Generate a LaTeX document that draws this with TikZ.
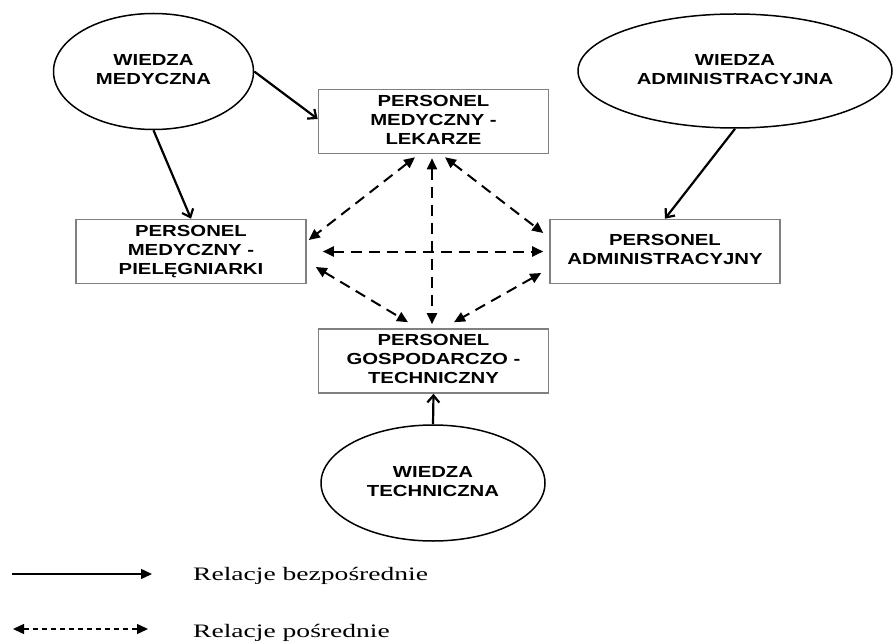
\documentclass[tikz,border=0pt]{standalone}
\usepackage{fontspec}
\newfontfamily\boxfont{Liberation Sans}
\newfontfamily\legfont{Liberation Serif}
\usetikzlibrary{shapes.geometric,arrows.meta}
% labels in the picture are set wide
\newcommand\widelabel[1]{\scalebox{1.27}[1]{\begin{tabular}{@{}c@{}}#1\end{tabular}}}
\newcommand\widelegend[1]{\scalebox{1.45}[1]{#1}}

\begin{document}
\begin{tikzpicture}[
	%	style def
	x=1pt, y=-1pt,
	label font/.style={font=\boxfont\bfseries\fontsize{16}{19}\selectfont},
	staff box/.style={label font, draw=gray, line width=1.6pt, rectangle,
		minimum width=230pt, minimum height=64pt, inner sep=2pt},
	knowledge/.style={label font, draw=black, line width=1.5pt, ellipse, inner sep=0pt},
	direct line/.style={line width=2.2pt, -{Straight Barb[length=7pt,width=12pt]}},
	indirect line/.style={line width=2pt, dash pattern=on 11pt off 7pt,
		{Triangle[length=11pt,width=10pt]}-{Triangle[length=11pt,width=10pt]}},
	legend text/.style={font=\legfont\fontsize{19}{22}\selectfont, anchor=base west, inner sep=0pt}
	]
	\useasboundingbox (0,0) rectangle (893,644);

	% knowledge ellipses
	\node[knowledge, minimum width=200pt, minimum height=116pt] (medKnow) at (153.5,71.5) {\widelabel{WIEDZA\\MEDYCZNA}};
	\node[knowledge, minimum width=314pt, minimum height=114pt] (admKnow) at (735,71) {\widelabel{WIEDZA\\ADMINISTRACYJNA}};
	\node[knowledge, minimum width=224pt, minimum height=116pt] (techKnow) at (433,483) {\widelabel{WIEDZA\\TECHNICZNA}};

	% staff boxes
	\node[staff box] (doctors) at (433.5,121.5) {\widelabel{PERSONEL\\MEDYCZNY -\\LEKARZE}};
	\node[staff box] (nurses) at (191,251.5) {\widelabel{PERSONEL\\MEDYCZNY -\\PIEL\k{E}GNIARKI}};
	\node[staff box] (admin) at (665,251.5) {\widelabel{PERSONEL\\ADMINISTRACYJNY}};
	\node[staff box] (tech) at (433.5,361) {\widelabel{PERSONEL\\GOSPODARCZO -\\TECHNICZNY}};

	% direct relations
	\draw[direct line] (medKnow.east) -- ([yshift=2.5pt]doctors.west);
	\draw[direct line] (medKnow.south) -- (nurses.north);
	\draw[direct line] (admKnow.south) -- (admin.north);
	\draw[direct line] (techKnow.north) -- (tech.south);

	% indirect relations
	\draw[indirect line] ([xshift=-18.5pt,yshift=-3pt]doctors.south) -- ([xshift=2pt,yshift=11.5pt]nurses.east);
	\draw[indirect line] ([xshift=11.5pt,yshift=-3pt]doctors.south) -- ([xshift=-6pt,yshift=18.5pt]admin.west);
	\draw[indirect line] ([xshift=16pt]nurses.east) -- ([xshift=-6pt]admin.west);
	\draw[indirect line] ([xshift=9pt,yshift=-15.5pt]nurses.east) -- ([xshift=-25.5pt,yshift=6pt]tech.north);
	\draw[indirect line] ([xshift=-8pt,yshift=-21.5pt]admin.west) -- ([xshift=20.5pt,yshift=6pt]tech.north);
	\draw[indirect line] ([xshift=-1.5pt,yshift=-4pt]doctors.south) -- ([xshift=-1.5pt,yshift=4pt]tech.north);

	% legend
	\coordinate (dirA) at (12,574);
	\coordinate (dirB) at (152,574);
	\coordinate (indA) at (13,629);
	\coordinate (indB) at (148,629);
	\draw[line width=1.4pt, -{Triangle[length=11pt,width=10pt]}] (dirA) -- (dirB);
	\draw[line width=1.4pt, dash pattern=on 5pt off 4pt,
		{Triangle[length=11pt,width=10pt]}-{Triangle[length=11pt,width=10pt]}] (indA) -- (indB);
	\node[legend text] (dirText) at (193,580) {\widelegend{Relacje bezpośrednie}};
	\node[legend text] (indText) at (193,637) {\widelegend{Relacje pośrednie}};

\end{tikzpicture}
\end{document}
